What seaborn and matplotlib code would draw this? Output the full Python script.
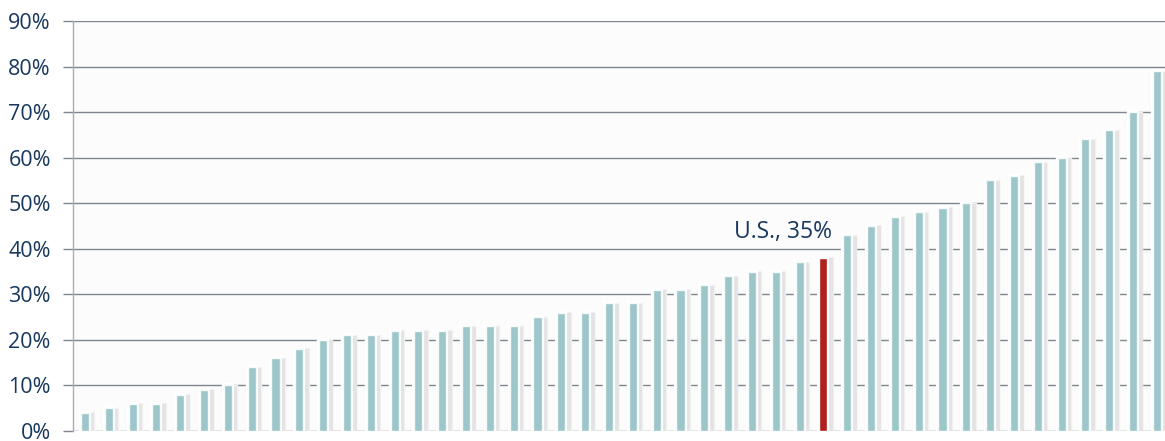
import matplotlib
matplotlib.use("Agg")
import matplotlib.pyplot as plt
import matplotlib.patheffects as pe
from matplotlib.ticker import PercentFormatter, MultipleLocator
import seaborn as sns
import pandas as pd

# ---- data ----
ranks = list(range(1, 47))
values = [4, 5, 6, 6, 8, 9, 10, 14, 16, 18, 20, 21, 21, 22, 22, 22, 23, 23, 23,
          25, 26, 26, 28, 28, 31, 31, 32, 34, 35, 35, 37, 38, 43, 45, 47, 48, 49,
          50, 55, 56, 59, 60, 64, 66, 70, 79]
highlight_rank = 32
label_text = "U.S., 35%"

teal = "#9DC6CA"
red = "#B0201C"
navy = "#17375E"
grid_c = "#7E858E"

df = pd.DataFrame({"rank": ranks, "value": values})
df["group"] = ["hl" if r == highlight_rank else "other" for r in ranks]

sns.set_theme(style="white")
plt.rcParams["font.family"] = ["Open Sans", "DejaVu Sans"]

fig = plt.figure(figsize=(11.65, 4.41), dpi=100)
ax = fig.add_axes([73 / 1165, 10 / 441, (1165 - 73) / 1165, 410 / 441])
ax.set_facecolor("#FCFCFC")

sns.barplot(data=df, x="rank", y="value", hue="group",
            palette={"other": teal, "hl": red}, dodge=False, width=0.34,
            saturation=1, edgecolor="#F4FAFA", linewidth=1.0, legend=False,
            ax=ax, zorder=3)

glow = [
    pe.Stroke(linewidth=6, foreground="#F3F3F3", offset=(1.6, -2.5)),
    pe.Stroke(linewidth=4.5, foreground="#E4E4E4", offset=(1.8, -2.5)),
    pe.Stroke(linewidth=3, foreground="#FFFFFF", offset=(0, 0)),
    pe.Normal(),
]
for p in ax.patches:
    p.set_path_effects(glow)

ax.set_xlim(-0.5, 45.34)
ax.set_ylim(0, 90)
ax.yaxis.set_major_locator(MultipleLocator(10))
ax.yaxis.set_major_formatter(PercentFormatter(decimals=0))
ax.grid(axis="y", color=grid_c, linewidth=1.0, zorder=0)
ax.set_axisbelow(True)
ax.set_xticks([])
ax.set_xlabel("")
ax.set_ylabel("")

for s in ["top", "right", "bottom"]:
    ax.spines[s].set_visible(False)
ax.spines["left"].set_color("#A9ADB3")
ax.spines["left"].set_linewidth(1.0)

ax.tick_params(axis="y", which="major", length=7, width=1, color=grid_c,
               labelsize=15.5, labelcolor=navy, pad=9, left=True)

hl_idx = ranks.index(highlight_rank)
ax.annotate(label_text, xy=(hl_idx, values[hl_idx]), xytext=(-29, 10),
            textcoords="offset points", ha="center", va="bottom",
            fontsize=16.5, color=navy)

fig.savefig("out.png", dpi=100)
